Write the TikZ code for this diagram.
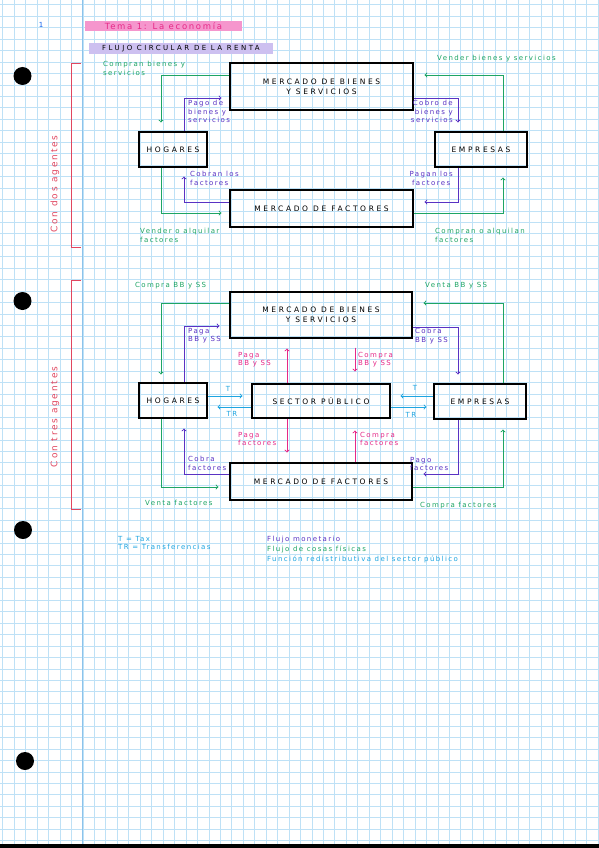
\documentclass[tikz,border=0pt]{standalone}
\usepackage{fontspec}
\newfontfamily\hand[LetterSpace=20]{DejaVu Sans}
\newfontfamily\caja[LetterSpace=35]{DejaVu Sans}
\usetikzlibrary{calc}
\definecolor{verde}{RGB}{30,165,100}
\definecolor{morado}{RGB}{90,50,195}
\definecolor{rosa}{RGB}{230,40,135}
\definecolor{celeste}{RGB}{30,165,225}
\definecolor{rojo}{RGB}{225,70,95}
\definecolor{cuadro}{RGB}{190,225,246}
\definecolor{margen}{RGB}{140,195,235}
\definecolor{subrosa}{RGB}{245,150,205}
\definecolor{sublila}{RGB}{205,192,240}
\tikzset{
  caja/.style={draw,line width=1.1pt,inner sep=0pt,align=center,
    font=\caja\fontsize{7.5}{10}\selectfont},
  flecha/.style={->,line width=0.9pt},
  etiq/.style={inner sep=0pt,align=left,font=\hand\fontsize{7}{8.5}\selectfont},
}
\begin{document}
\begin{tikzpicture}[x=1pt,y=-1pt]
\useasboundingbox (0,0) rectangle (599,848);
\fill[white] (0,0) rectangle (599,848);
% papel cuadriculado
\foreach \i in {0,...,52} \draw[cuadro,line width=0.6pt] ({2.7+11.45*\i},0) -- ++(0,848);
\foreach \j in {0,...,73} \draw[cuadro,line width=0.6pt] (0,{4.7+11.45*\j}) -- ++(599,0);
\draw[margen,line width=1.2pt] (82.7,0) -- (82.7,848);
\fill[black] (0,844) rectangle (599,848);
\fill (22.5,76) circle[radius=9pt]; \fill (22.5,301) circle[radius=9pt];
\fill (23,530) circle[radius=9pt]; \fill (25,761) circle[radius=9pt];
\node[text=celeste!60!blue,font=\hand\fontsize{7}{8}\selectfont] (pag) at (41,25) {1};
% titulos
\fill[subrosa] (85,21) rectangle (242,31);
\node[text=rosa,font=\hand\fontsize{8.5}{9}\selectfont] (tema) at (163.5,26) {Tema 1: La economía};
\fill[sublila] (89,43) rectangle (273,54);
\node[font=\caja\fontsize{7}{8}\selectfont] (flujo) at (181,48.5) {FLUJO CIRCULAR DE LA RENTA};
% con dos agentes
\draw[rojo,line width=0.9pt] (81,63) -- (71,63) -- (71,247) -- (81,247);
\node[rojo,rotate=90,font=\hand\fontsize{9}{9}\selectfont] (dos) at (55,184) {Con dos agentes};
\node[caja,minimum width=183pt,minimum height=47pt] (mbs1) at (321.5,86.5) {MERCADO DE BIENES\\Y SERVICIOS};
\node[caja,minimum width=68pt,minimum height=35pt] (hog1) at (173,149.5) {HOGARES};
\node[caja,minimum width=183pt,minimum height=37pt] (mf1) at (321.5,208.5) {MERCADO DE FACTORES};
\node[caja,minimum width=92pt,minimum height=35pt] (emp1) at (481,149.5) {EMPRESAS};
\draw[verde,flecha] ($(mbs1.west)+(0,-11.5)$) -| ($(hog1.north)+(-12,-9)$);
\draw[verde,flecha] ($(hog1.south)+(-12,0)$) |- ($(mf1.west)+(-8,4.5)$);
\draw[verde,flecha] ($(emp1.north)+(22,0)$) |- ($(mbs1.east)+(11,-11.5)$);
\draw[verde,flecha] ($(mf1.east)+(0,4.5)$) -| ($(emp1.south)+(22,10)$);
\draw[morado,flecha] ($(hog1.north)+(11,0)$) |- ($(mbs1.west)+(-8,11.5)$);
\draw[morado,flecha] ($(mf1.west)+(0,-6.5)$) -| ($(hog1.south)+(11,9)$);
\draw[morado,flecha] ($(mbs1.east)+(0,11.5)$) -| ($(emp1.north)+(-23,-9)$);
\draw[morado,flecha] ($(emp1.south)+(-23,0)$) |- ($(mf1.east)+(11,-6.5)$);
\node[etiq,verde,anchor=north west] (lcomp1) at (103,61) {Compran bienes y\\servicios};
\node[etiq,verde,anchor=north west] (lvend1) at (140,228) {Vender o alquilar\\factores};
\node[etiq,verde,anchor=north west] (lvendb1) at (437,55) {Vender bienes y servicios};
\node[etiq,verde,anchor=north west] (lcompf1) at (435,228) {Compran o alquilan\\factores};
\node[etiq,morado,anchor=north west] (lpago1) at (188,100) {Pago de\\bienes y\\servicios};
\node[etiq,morado,anchor=north west] (lcobran1) at (190,171) {Cobran los\\factores};
\node[etiq,morado,anchor=north east,align=right] (lcobro1) at (453,100) {Cobro de\\bienes y\\servicios};
\node[etiq,morado,anchor=north east,align=center] (lpagan1) at (453,171) {Pagan los\\factores};
% con tres agentes
\draw[rojo,line width=0.9pt] (81,280) -- (71,280) -- (71,509) -- (81,509);
\node[rojo,rotate=90,font=\hand\fontsize{9}{9}\selectfont] (tres) at (55,417) {Con tres agentes};
\node[caja,minimum width=182pt,minimum height=46pt] (mbs2) at (321,315) {MERCADO DE BIENES\\Y SERVICIOS};
\node[caja,minimum width=138pt,minimum height=34pt] (sp) at (321,401) {SECTOR PÚBLICO};
\node[caja,minimum width=182pt,minimum height=37pt] (mf2) at (321,481.5) {MERCADO DE FACTORES};
\node[caja,minimum width=68pt,minimum height=35pt] (hog2) at (173,400.5) {HOGARES};
\node[caja,minimum width=92pt,minimum height=35pt] (emp2) at (480,401.5) {EMPRESAS};
\draw[verde,flecha] ($(mbs2.west)+(0,-12)$) -| ($(hog2.north)+(-12,-8)$);
\draw[verde,flecha] ($(hog2.south)+(-12,0)$) |- ($(mf2.west)+(-11,5.5)$);
\draw[verde,flecha] ($(emp2.north)+(23,0)$) |- ($(mbs2.east)+(11,-12)$);
\draw[verde,flecha] ($(mf2.east)+(0,5.5)$) -| ($(emp2.south)+(23,10)$);
\draw[morado,flecha] ($(hog2.north)+(11,0)$) |- ($(mbs2.west)+(-10,11)$);
\draw[morado,flecha] ($(mf2.west)+(0,-7.5)$) -| ($(hog2.south)+(11,10)$);
\draw[morado,flecha] ($(mbs2.east)+(0,12)$) -| ($(emp2.north)+(-22,-9)$);
\draw[morado,flecha] ($(emp2.south)+(-22,0)$) |- ($(mf2.east)+(11,-7.5)$);
\draw[rosa,flecha] ($(sp.north)+(-34,0)$) -- ($(mbs2.south)+(-34,10)$);
\draw[rosa,flecha] ($(mbs2.south)+(34,9)$) -- ($(sp.north)+(34,-12)$);
\draw[rosa,flecha] ($(sp.south)+(-34,0)$) -- ($(mf2.north)+(-34,-10)$);
\draw[rosa,flecha] ($(mf2.north)+(34,0)$) -- ($(sp.south)+(34,12)$);
\draw[celeste,flecha] ($(hog2.east)+(0,-4.5)$) -- ($(sp.west)+(-9,-5)$);
\draw[celeste,flecha] ($(sp.west)+(0,6)$) -- ($(hog2.east)+(10,6.5)$);
\draw[celeste,flecha] ($(emp2.west)+(0,-5.5)$) -- ($(sp.east)+(10,-5)$);
\draw[celeste,flecha] ($(sp.east)+(0,6)$) -- ($(emp2.west)+(-7,5.5)$);
\node[etiq,verde,anchor=north west] (lcomp2) at (135,282) {Compra BB y SS};
\node[etiq,verde,anchor=north west] (lvend2) at (145,500) {Venta factores};
\node[etiq,verde,anchor=north west] (lventb2) at (425,282) {Venta BB y SS};
\node[etiq,verde,anchor=north west] (lcompf2) at (420,502) {Compra factores};
\node[etiq,morado,anchor=north west] (lpaga2) at (188,328) {Paga\\BB y SS};
\node[etiq,morado,anchor=north west] (lcobra2) at (188,456) {Cobra\\factores};
\node[etiq,morado,anchor=north west] (lcobrab2) at (415,328) {Cobra\\BB y SS};
\node[etiq,morado,anchor=north west] (lpagof2) at (410,457) {Pago\\factores};
\node[etiq,rosa,anchor=north west] (lspaga) at (238,352) {Paga\\BB y SS};
\node[etiq,rosa,anchor=north west] (lspcompra) at (358,352) {Compra\\BB y SS};
\node[etiq,rosa,anchor=north west] (lspagaf) at (238,432) {Paga\\factores};
\node[etiq,rosa,anchor=north west] (lspcompf) at (360,432) {Compra\\factores};
\node[etiq,celeste] (lt1) at (228,389) {T};
\node[etiq,celeste] (ltr1) at (232,414) {TR};
\node[etiq,celeste] (lt2) at (415,388) {T};
\node[etiq,celeste] (ltr2) at (411,415) {TR};
% leyenda
\node[etiq,celeste,anchor=north west] (ltax) at (118,536) {T = Tax\\TR = Transferencias};
\node[etiq,morado,anchor=north west] (lmon) at (267,536) {Flujo monetario};
\node[etiq,verde,anchor=north west] (lfis) at (267,546) {Flujo de cosas físicas};
\node[etiq,celeste,anchor=north west] (lred) at (267,556) {Función redistributiva del sector público};
\end{tikzpicture}
\end{document}
